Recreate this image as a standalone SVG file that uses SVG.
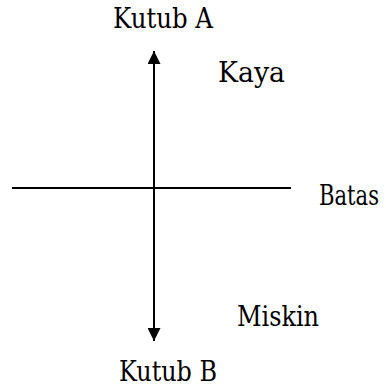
<svg xmlns="http://www.w3.org/2000/svg" width="386" height="387" viewBox="0 0 386 387">
<style>
text{font-family:'DejaVu Serif Condensed','DejaVu Serif',serif;font-stretch:condensed;font-size:27px;fill:#000}
.ln{stroke:#000;stroke-width:2;fill:none}
</style>
<defs>
<marker id="ah" viewBox="0 0 10 10" refX="10" refY="5" markerWidth="13" markerHeight="13" markerUnits="userSpaceOnUse" orient="auto">
<path d="M0,0 L10,5 L0,10 Z" fill="#000"/>
</marker>
</defs>
<g id="connectors">
<line class="ln" x1="154" y1="188" x2="154" y2="51" marker-end="url(#ah)"/>
<line class="ln" x1="154" y1="188" x2="154" y2="341" marker-end="url(#ah)"/>
<line class="ln" x1="12" y1="188" x2="291" y2="188"/>
</g>
<g id="kutubA"><text x="113" y="28" textLength="100" lengthAdjust="spacingAndGlyphs">Kutub A</text></g>
<g id="kaya"><text x="218" y="82" textLength="67" lengthAdjust="spacingAndGlyphs">Kaya</text></g>
<g id="batas"><text x="319" y="205" font-size="24" textLength="60" lengthAdjust="spacingAndGlyphs">Batas</text></g>
<g id="miskin"><text x="237" y="326" textLength="82" lengthAdjust="spacingAndGlyphs">Miskin</text></g>
<g id="kutubB"><text x="119" y="381" textLength="98" lengthAdjust="spacingAndGlyphs">Kutub B</text></g>
</svg>
